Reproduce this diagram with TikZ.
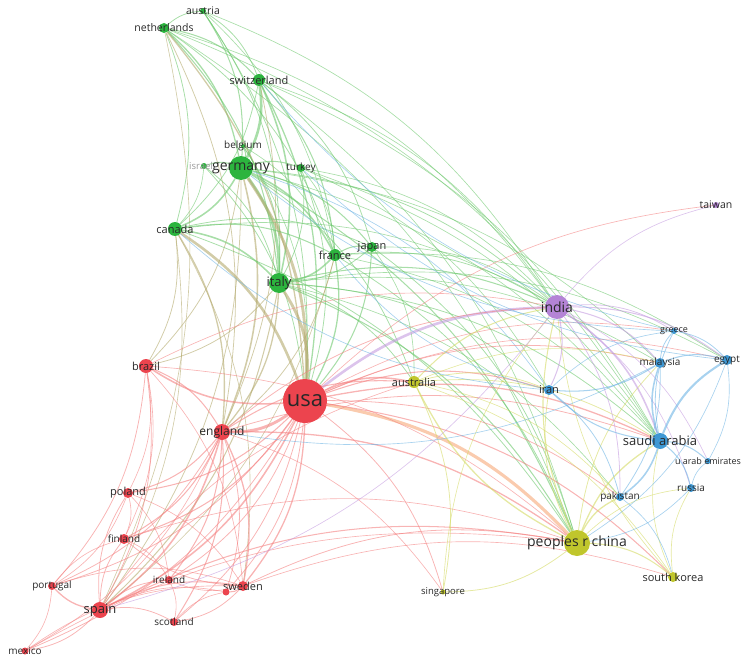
\documentclass[tikz,border=0pt]{standalone}
\usepackage{fontspec}
\setmainfont{Open Sans}
\usetikzlibrary{backgrounds}
\definecolor{vgreen}{RGB}{44,180,62}
\definecolor{vred}{RGB}{236,68,78}
\definecolor{vyellow}{RGB}{192,198,44}
\definecolor{vpurple}{RGB}{180,132,214}
\definecolor{vblue}{RGB}{62,152,212}
\definecolor{eg}{RGB}{110,200,110}
\definecolor{er}{RGB}{244,130,130}
\definecolor{ey}{RGB}{212,218,100}
\definecolor{ep}{RGB}{196,156,224}
\definecolor{eb}{RGB}{110,180,228}
\definecolor{eo}{RGB}{180,170,110}
\definecolor{eor}{RGB}{246,168,120}
\definecolor{labc}{RGB}{40,40,40}
\begin{document}
\begin{tikzpicture}[x=1pt,y=-1pt,
  nd/.style={circle,inner sep=0pt,minimum size=#1pt,draw=none},
  gn/.style={nd=#1,fill=vgreen},
  rn/.style={nd=#1,fill=vred},
  yn/.style={nd=#1,fill=vyellow},
  pn/.style={nd=#1,fill=vpurple},
  bn/.style={nd=#1,fill=vblue},
  lab/.style={font=\fontsize{#1}{#1}\selectfont,text=labc,inner sep=0pt},
  edge/.style={draw opacity=0.6}]
\useasboundingbox (0,0) rectangle (750,661);
% green cluster
\node[gn=6,label={[lab=10.5]center:austria}] (austria) at (203,11) {};
\node[gn=10,label={[lab=10.5]center:netherlands}] (netherlands) at (164,28) {};
\node[gn=12,label={[lab=11]center:switzerland}] (switzerland) at (259,80) {};
\node[gn=4,label={[lab=10]center:belgium}] (belgium) at (243,146) {};
\node[gn=6,label={[lab=9.5,text=gray!80,xshift=-3pt]center:israel}] (israel) at (204,166) {};
\node[gn=24,label={[lab=14]center:germany}] (germany) at (241,168) {};
\node[gn=8,label={[lab=10]center:turkey}] (turkey) at (301,168) {};
\node[gn=14,label={[lab=11]center:canada}] (canada) at (175,229) {};
\node[gn=12,label={[lab=11]center:france}] (france) at (335,255) {};
\node[gn=10,label={[lab=11]center:japan}] (japan) at (372,247) {};
\node[gn=20,label={[lab=13]center:italy}] (italy) at (279,283) {};
% red cluster
\node[rn=44,label={[lab=22]center:usa}] (usa) at (305,401) {};
\node[rn=14,label={[lab=11]center:brazil}] (brazil) at (146,366) {};
\node[rn=16,label={[lab=12]center:england}] (england) at (222,432) {};
\node[rn=10,label={[lab=11]center:poland}] (poland) at (128,493) {};
\node[rn=10,label={[lab=10]center:finland}] (finland) at (124,539) {};
\node[rn=8,label={[lab=10]center:portugal}] (portugal) at (52,586) {};
\node[rn=8,label={[lab=10]center:ireland}] (ireland) at (169,580) {};
\node[rn=10,label={[lab=11]center:sweden}] (sweden) at (243,586) {};
\node[rn=7] (norway) at (226,592) {};
\node[rn=16,label={[lab=13]center:spain}] (spain) at (100,610) {};
\node[rn=8,label={[lab=10]center:scotland}] (scotland) at (174,622) {};
\node[rn=7,label={[lab=10]center:mexico}] (mexico) at (25,651) {};
% yellow cluster
\node[yn=12,label={[lab=11]center:australia}] (australia) at (414,382) {};
\node[yn=26,label={[lab=14]center:peoples r china}] (china) at (577,543) {};
\node[yn=5,label={[lab=9.5]center:singapore}] (singapore) at (443,592) {};
\node[yn=10,label={[lab=11]center:south korea}] (skorea) at (673,577) {};
% purple cluster
\node[pn=24,label={[lab=14]center:india}] (india) at (557,307) {};
\node[pn=6,label={[lab=10.5]center:taiwan}] (taiwan) at (716,205) {};
% blue cluster
\node[bn=10,label={[lab=11]center:iran}] (iran) at (549,390) {};
\node[bn=6,label={[lab=9]center:greece}] (greece) at (674,331) {};
\node[bn=10,label={[lab=10]center:malaysia}] (malaysia) at (660,363) {};
\node[bn=10,label={[lab=10]center:egypt}] (egypt) at (727,360) {};
\node[bn=16,label={[lab=13]center:saudi arabia}] (saudi) at (660,441) {};
\node[bn=6,label={[lab=9]center:u arab emirates}] (uae) at (708,461) {};
\node[bn=8,label={[lab=10]center:russia}] (russia) at (691,488) {};
\node[bn=8,label={[lab=10]center:pakistan}] (pakistan) at (620,497) {};
\begin{scope}[on background layer]
\foreach \a/\b/\c/\w in {
netherlands/germany/eg/1, netherlands/switzerland/eg/0.8, netherlands/italy/eg/0.8, netherlands/canada/eg/0.6, netherlands/france/eg/0.6, netherlands/usa/eo/1, netherlands/england/eo/0.6, netherlands/austria/eg/0.6, netherlands/india/eg/0.5, netherlands/spain/eo/0.5, netherlands/saudi/eg/0.5, netherlands/china/eg/0.5,
austria/germany/eg/0.8, austria/switzerland/eg/0.6, austria/italy/eg/0.6, austria/usa/eg/0.6, austria/france/eg/0.5, austria/india/eg/0.5,
switzerland/germany/eg/2, switzerland/italy/eg/1.2, switzerland/france/eg/0.8, switzerland/usa/eg/1, switzerland/india/eg/0.5, switzerland/canada/eg/0.6, switzerland/japan/eg/0.6, switzerland/england/eo/0.6, switzerland/china/eg/0.5, switzerland/saudi/eg/0.5,
belgium/germany/eg/0.8, belgium/italy/eg/0.6, belgium/usa/eg/0.5, belgium/france/eg/0.5,
germany/italy/eg/2, germany/canada/eg/1.2, germany/france/eg/1.2, germany/japan/eg/0.8, germany/turkey/eg/0.8, germany/usa/eo/2.2, germany/india/eg/0.6, germany/australia/eg/0.6, germany/china/eg/0.8, germany/saudi/eg/0.5, germany/england/eo/1.2, germany/spain/eo/0.6, germany/brazil/eo/0.6, germany/iran/eb/0.5, germany/malaysia/eg/0.5,
israel/germany/eg/0.8, israel/italy/eg/0.6, israel/usa/eg/0.6, israel/canada/eg/0.5,
turkey/italy/eg/0.6, turkey/usa/eg/0.6, turkey/india/eg/0.5, turkey/iran/eg/0.5, turkey/france/eg/0.5, turkey/saudi/eg/0.5,
canada/italy/eg/1.2, canada/usa/eo/2, canada/france/eg/0.8, canada/england/eo/1, canada/brazil/eo/0.6, canada/china/eg/0.6, canada/japan/eg/0.6, canada/india/eg/0.5, canada/spain/eo/0.5, canada/sweden/eo/0.5,
france/italy/eg/1.2, france/japan/eg/0.8, france/usa/eg/1, france/india/eg/0.6, france/saudi/eg/0.5, france/china/eg/0.6, france/spain/eo/0.5, france/england/eo/0.6, france/egypt/eg/0.5,
japan/usa/eg/0.8, japan/china/eg/0.6, japan/india/eg/0.5, japan/italy/eg/0.6, japan/australia/eg/0.5,
italy/usa/eo/2.2, italy/england/eo/1, italy/india/eg/0.8, italy/spain/eo/0.8, italy/brazil/eo/0.6, italy/china/eg/0.8, italy/iran/eg/0.6, italy/saudi/eg/0.6, italy/australia/eg/0.6, italy/malaysia/eg/0.5, italy/egypt/eg/0.5, italy/pakistan/eg/0.5,
usa/england/er/2.2, usa/brazil/er/1.2, usa/china/eor/2.4, usa/india/ep/2, usa/australia/er/1.2, usa/spain/er/1.2, usa/sweden/er/1, usa/poland/er/0.8, usa/finland/er/0.8, usa/ireland/er/0.6, usa/scotland/er/0.6, usa/portugal/er/0.6, usa/mexico/er/0.6, usa/saudi/er/1, usa/iran/er/0.8, usa/singapore/er/0.6, usa/skorea/er/0.8, usa/pakistan/er/0.6, usa/malaysia/er/0.6, usa/egypt/er/0.5, usa/taiwan/er/0.5, usa/norway/er/0.6, usa/greece/er/0.5,
brazil/england/er/0.8, brazil/spain/er/0.6, brazil/portugal/er/0.6, brazil/poland/er/0.5, brazil/india/er/0.5, brazil/china/er/0.5, brazil/finland/er/0.5, brazil/sweden/er/0.5,
england/spain/er/1.2, england/sweden/er/1, england/poland/er/0.8, england/finland/er/0.8, england/ireland/er/0.8, england/scotland/er/0.8, england/portugal/er/0.6, england/china/er/1, england/india/er/0.6, england/australia/er/0.8, england/saudi/er/0.6, england/mexico/er/0.5, england/norway/er/0.6, england/singapore/er/0.5,
spain/portugal/er/1, spain/mexico/er/0.6, spain/finland/er/0.6, spain/poland/er/0.6, spain/sweden/er/0.8, spain/ireland/er/0.6, spain/scotland/er/0.6, spain/china/er/0.8, spain/norway/er/0.5, spain/australia/er/0.5,
poland/finland/er/0.5, poland/sweden/er/0.5, poland/portugal/er/0.5, poland/ireland/er/0.5, portugal/mexico/er/0.5, portugal/finland/er/0.5, portugal/sweden/er/0.5, sweden/finland/er/0.6, sweden/ireland/er/0.5, sweden/scotland/er/0.6, sweden/china/er/0.6, sweden/norway/er/0.8, ireland/scotland/er/0.5, mexico/china/er/0.5, mexico/sweden/er/0.5, finland/china/er/0.5, finland/ireland/er/0.5, sweden/skorea/er/0.5, scotland/norway/er/0.5,
china/australia/ey/1, china/singapore/ey/0.6, china/skorea/ey/0.8, china/saudi/ey/1, china/pakistan/ey/1, china/india/ey/0.8, china/iran/ey/0.6, china/malaysia/ey/0.6, china/russia/ey/0.5,
australia/singapore/ey/0.6, australia/india/ey/0.8, australia/iran/ey/0.6, australia/saudi/ey/0.6, australia/skorea/ey/0.5, australia/malaysia/ey/0.5, australia/pakistan/ey/0.5, singapore/india/ey/0.5, skorea/saudi/ey/0.5, skorea/india/ey/0.5, skorea/russia/ey/0.5,
india/taiwan/ep/0.5, india/iran/ep/0.8, india/saudi/ep/1.2, india/malaysia/ep/0.8, india/greece/ep/0.6, india/egypt/ep/0.8, india/pakistan/ep/0.6, india/uae/ep/0.5, india/russia/ep/0.5, india/spain/ep/0.5,
saudi/malaysia/eb/1.2, saudi/egypt/eb/1.6, saudi/pakistan/eb/1.2, saudi/uae/eb/0.8, saudi/russia/eb/0.8, saudi/iran/eb/0.8, saudi/greece/eb/0.6, malaysia/egypt/eb/0.8, malaysia/greece/eb/0.6, malaysia/iran/eb/0.8, malaysia/pakistan/eb/0.6, greece/egypt/eb/0.6, iran/pakistan/eb/0.6, iran/greece/eb/0.5, egypt/uae/eb/0.5, russia/uae/eb/0.5, iran/canada/eb/0.5, greece/germany/eb/0.5, egypt/turkey/eb/0.5, iran/france/eb/0.5, malaysia/england/eb/0.5, egypt/china/eb/0.5, russia/china/eb/0.5, pakistan/skorea/eb/0.5, greece/switzerland/eb/0.5}
{\draw[edge,draw=\c,line width=1.3*\w] (\a) to[bend left=18] (\b);}
\end{scope}
\end{tikzpicture}
\end{document}
